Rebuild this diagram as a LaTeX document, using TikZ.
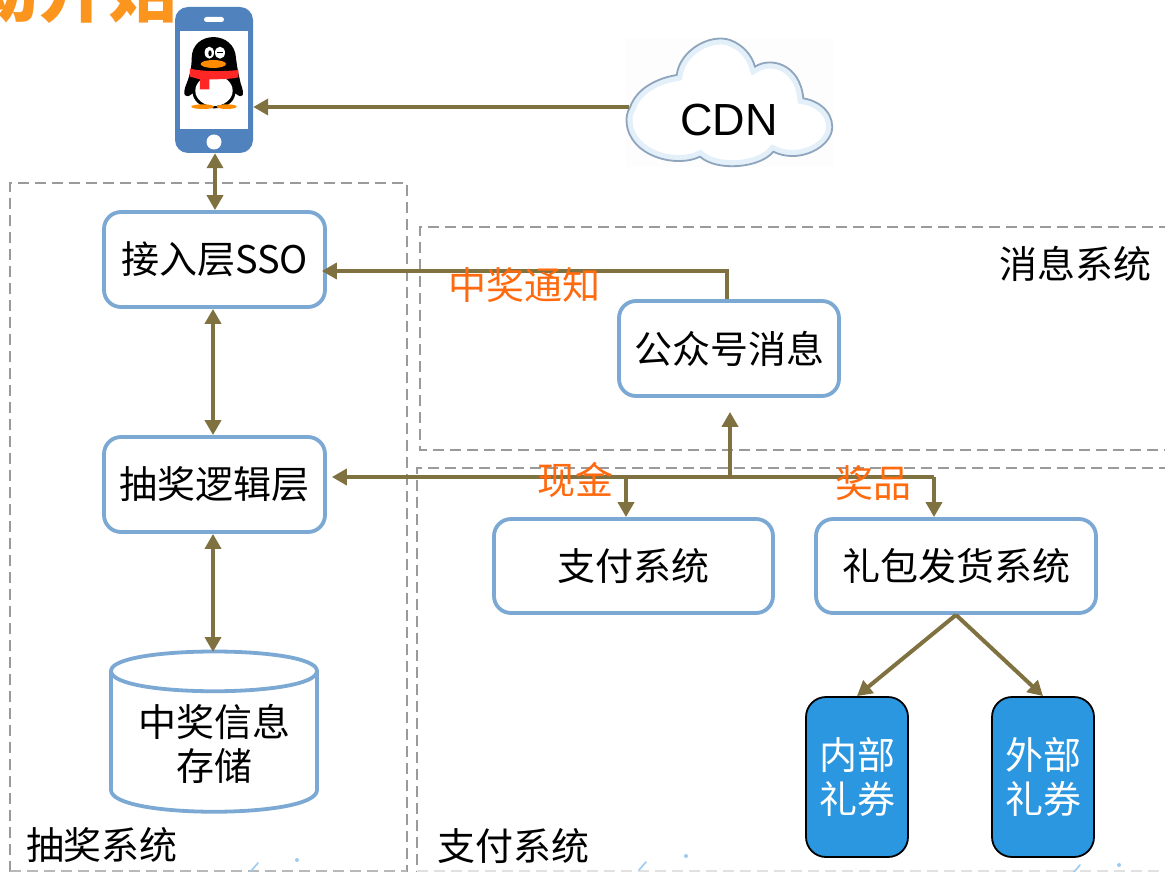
\documentclass[tikz,border=0pt]{standalone}
\usepackage{fontspec}
\setmainfont{Noto Sans CJK SC}
\newfontfamily\cdnfont{Liberation Sans}
\usetikzlibrary{arrows.meta,calc}
\definecolor{arrowc}{HTML}{7F7240}
\definecolor{boxc}{HTML}{7BA9D3}
\definecolor{dashc}{HTML}{9A9A9A}
\definecolor{orangec}{HTML}{FF6A0F}
\definecolor{titlec}{HTML}{FC951E}
\definecolor{phonec}{HTML}{5082BE}
\definecolor{couponc}{HTML}{2A97E0}
\definecolor{tracec}{HTML}{9CCBF2}
\definecolor{cloudglow}{HTML}{E3EFF9}
\definecolor{cloudedge}{HTML}{8FA5BD}
\tikzset{
  x=1pt,y=-1pt,
  txt/.style={font=\fontsize{38}{44}\selectfont,inner sep=0pt,align=center},
  sysbox/.style={txt,draw=boxc,line width=3.8pt,rounded corners=17pt,fill=white,inner sep=0pt},
  coupon/.style={txt,text=white,draw=black,line width=1.8pt,fill=couponc,rounded corners=20pt,minimum width=102pt,minimum height=160pt},
  zone/.style={draw=dashc,line width=2.8pt,dash pattern=on 11pt off 6pt},
  link/.style={draw=arrowc,line width=4pt,-{Triangle[width=16pt,length=15pt]}},
  twoway/.style={draw=arrowc,line width=4pt,{Triangle[width=16pt,length=15pt]}-{Triangle[width=16pt,length=15pt]}},
  note/.style={txt,text=orangec},
  dbline/.style={draw=boxc,line width=3.8pt},
}
\begin{document}
\begin{tikzpicture}
\useasboundingbox (0,0) rectangle (1165,872);
\clip (0,0) rectangle (1165,872);
\fill[white] (0,0) rectangle (1165,872);
% title fragment
\node[anchor=base east,inner sep=0pt,text=titlec,font=\fontsize{70}{70}\selectfont\bfseries] at (179,17) {动开始};
% zones
\draw[zone] (10,872) -- (10,183) -- (407,183) -- (407,872);
\draw[zone,line width=1.6pt,draw=dashc!70] (10,871) -- (407,871);
\draw[zone] (1170,227) -- (420,227) -- (420,450) -- (1170,450);
\draw[zone] (1170,468) -- (417,468) -- (417,872);
\draw[zone,line width=1.2pt,draw=dashc!30] (417,871) -- (1170,871);
% background traces
\foreach \p/\q in {251/871,639/870,1073/873}{
  \draw[tracec,line width=1.6pt,line cap=round] (\p,\q) -- (\p+7,\q-8);
}
\foreach \p/\q in {297/860,686/856,1119/865}{
  \fill[tracec] (\p,\q) circle (2);
}
% phone
\node[fill=phonec,rounded corners=13pt,minimum width=78pt,minimum height=146pt,inner sep=0pt] (phone) at (214,80) {};
\fill[white] (180,31) rectangle (248,129);
\fill[white,rounded corners=2.5pt] (204,17) rectangle (224,22);
\fill[white] (214,142) circle (7.5);
\begin{scope}[x=1/3pt,y=-1/3pt]
  \fill[black] (575,175) .. controls (575,90) and (705,90) .. (708,175) .. controls (712,205) and (715,220) .. (722,250) .. controls (735,285) and (730,300) .. (706,280) .. controls (700,340) and (585,340) .. (578,280) .. controls (555,300) and (545,285) .. (560,250) .. controls (570,225) and (575,200) .. (575,175) -- cycle;
  \fill[white] (642,272) ellipse (56 and 46);
  \fill[white] (628,158) ellipse (14 and 18);
  \fill[white] (660,158) ellipse (15 and 18);
  \fill[black] (630,160) ellipse (5 and 9);
  \fill[black] (650,156) rectangle (670,160);
  \fill[orange!90!yellow] (640,192) ellipse (38 and 12);
  \fill[red!85!white] (570,206) .. controls (610,215) and (670,215) .. (715,210) -- (715,232) .. controls (690,238) and (650,238) .. (628,238) -- (628,268) -- (600,268) -- (600,238) -- (570,230) -- cycle;
  \fill[orange!90!yellow] (608,320) ellipse (34 and 7);
  \fill[orange!90!yellow] (680,320) ellipse (30 and 7);
\end{scope}
% cloud
\begin{scope}[shift={(600,20)},x=1/3pt,y=-1/3pt]
  \def\cloudpath{(90,262) .. controls (110,205) and (170,175) .. (230,165)
    .. controls (240,90) and (330,40) .. (390,60)
    .. controls (430,75) and (455,105) .. (465,140)
    .. controls (510,110) and (600,130) .. (610,235)
    .. controls (670,245) and (705,290) .. (695,335)
    .. controls (680,390) and (590,430) .. (520,395)
    .. controls (480,445) and (350,455) .. (300,410)
    .. controls (230,445) and (90,410) .. (80,310)
    .. controls (78,290) and (82,275) .. (90,262) -- cycle}
  \fill[black!0.7] (78,55) rectangle (698,442);
  \fill[white] \cloudpath;
  \begin{scope}
    \clip \cloudpath;
    \draw[draw=cloudglow,line width=12pt] \cloudpath;
  \end{scope}
  \draw[draw=cloudedge,line width=1.8pt] \cloudpath;
\end{scope}
\coordinate (cdnedge) at (629,107);
\node[inner sep=0pt,font=\cdnfont\fontsize{45}{45}\selectfont] (cdn) at (729,120) {CDN};
% boxes
\node[sysbox,minimum width=221pt,minimum height=95pt] (sso) at (214.5,259.5) {接入层SSO};
\node[sysbox,minimum width=221pt,minimum height=95pt] (logic) at (214.5,484.5) {\raisebox{-1.5pt}{抽奖逻辑层}};
\node[sysbox,minimum width=220pt,minimum height=95pt] (wechat) at (729,348.5) {公众号消息};
\node[sysbox,minimum width=279pt,minimum height=94pt] (pay) at (633.5,566) {支付系统};
\node[sysbox,minimum width=280pt,minimum height=94pt] (gift) at (956,566) {礼包发货系统};
\node[coupon] (inner) at (857,777) {内部\\礼券};
\node[coupon] (outer) at (1043,777) {外部\\礼券};
% storage cylinder
\coordinate (dbtop) at (214,652);
\draw[dbline,fill=white] (111,671) .. controls (111,645) and (317,645) .. (317,671) -- (317,790) .. controls (317,819) and (111,819) .. (111,790) -- cycle;
\draw[dbline] (111,671) .. controls (111,698) and (317,698) .. (317,671);
\node[txt] (db) at (214.5,744) {中奖信息\\存储};
% connectors
\draw[link] (cdnedge) -- (cdnedge -| phone.east);
\draw[twoway] (phone.south -| 215,0) -- (sso.north -| 215,0);
\draw[twoway] (sso.south -| 213,0) -- (logic.north -| 213,0);
\draw[twoway] (logic.south -| 213,0) -- (dbtop -| 213,0);
\coordinate (wbend) at (727,271);
\draw[link,shorten >=-5pt] (wechat.north -| wbend) -- (wbend) -- (wbend -| sso.east);
\coordinate (busl) at (626,477);
\coordinate (busm) at (730,477);
\coordinate (busr) at (934,477);
\draw[link,shorten >=5pt] (busr) -- (busm) -- (busl) -- (busl -| logic.east);
\draw[link] (busm) -- ($(wechat.south -| busm)+(0,14)$);
\draw[link] (busl) -- (busl |- pay.north);
\draw[link] (busr) -- (busr |- gift.north);
\draw[link] (gift.south) -- (inner.north);
\draw[link] (gift.south) -- (outer.north);
% labels
\node[note] (n1) at (524,285) {中奖通知};
\node[note] (n2) at (575,480) {现金};
\node[note] (n3) at (873,483) {奖品};
\node[txt] (z1) at (1075,264) {消息系统};
\node[txt] (z2) at (102,845) {抽奖系统};
\node[txt] (z3) at (513,846) {支付系统};
\end{tikzpicture}
\end{document}
